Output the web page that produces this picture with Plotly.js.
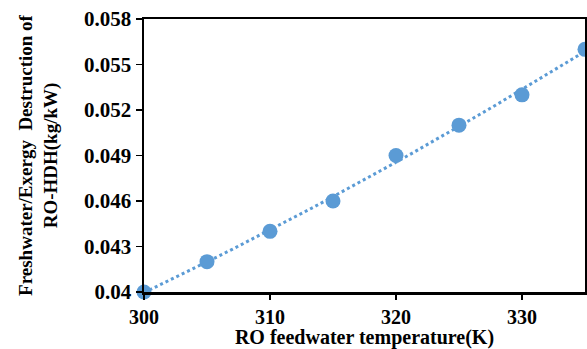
<!DOCTYPE html>
<html><head><meta charset="utf-8">
<script src="https://cdn.plot.ly/plotly-3.0.1.min.js"></script>
<style>html,body{margin:0;padding:0;background:#fff}#c{width:587px;height:349px}</style>
</head><body><div id="c"></div>
<script>
const temperature = [300, 305, 310, 315, 320, 325, 330, 335];
const ratio = [0.040, 0.042, 0.044, 0.046, 0.049, 0.051, 0.053, 0.056];

// quadratic least-squares trendline from the data
function polyfit2(x, y) {
  const n = x.length, x0 = 300;
  let S = [0,0,0,0,0], T = [0,0,0];
  for (let i = 0; i < n; i++) {
    const u = x[i] - x0;
    for (let k = 0; k < 5; k++) S[k] += Math.pow(u, k);
    for (let k = 0; k < 3; k++) T[k] += y[i] * Math.pow(u, k);
  }
  const A = [[S[0],S[1],S[2],T[0]],[S[1],S[2],S[3],T[1]],[S[2],S[3],S[4],T[2]]];
  for (let i = 0; i < 3; i++) {
    for (let j = i + 1; j < 3; j++) {
      const f = A[j][i] / A[i][i];
      for (let k = i; k < 4; k++) A[j][k] -= f * A[i][k];
    }
  }
  const c = [0,0,0];
  for (let i = 2; i >= 0; i--) {
    let s = A[i][3];
    for (let k = i + 1; k < 3; k++) s -= A[i][k] * c[k];
    c[i] = s / A[i][i];
  }
  return t => c[0] + c[1]*(t-x0) + c[2]*(t-x0)*(t-x0);
}
const f = polyfit2(temperature, ratio);
const tx = [], ty = [];
for (let t = 300; t <= 335; t += 1) { tx.push(t); ty.push(f(t)); }

const blue = '#5B9BD5';
const fam = 'Liberation Serif, Times New Roman, serif';
Plotly.newPlot('c', [
  {x: tx, y: ty, mode: 'lines', line: {color: blue, width: 3, dash: 'dot'}, hoverinfo: 'skip', cliponaxis: false},
  {x: temperature, y: ratio, mode: 'markers', marker: {color: blue, size: 15}, cliponaxis: false}
], {
  width: 587, height: 349,
  margin: {l: 144, r: 2, t: 19, b: 57},
  showlegend: false,
  paper_bgcolor: '#fff', plot_bgcolor: '#fff',
  font: {family: fam, color: '#000'},
  xaxis: {
    range: [300, 335], tickvals: [300, 310, 320, 330],
    ticks: 'outside', ticklen: 5, tickwidth: 1.5, tickcolor: '#000',
    showgrid: false, zeroline: false,
    showline: true, linecolor: '#000', linewidth: 2.5, mirror: true,
    tickfont: {family: fam, size: 20, color: '#000', weight: 'bold'},
    title: {text: '<b>RO feedwater temperature(K)</b>', font: {family: fam, size: 20, color: '#000'}, standoff: 6}
  },
  yaxis: {
    range: [0.04, 0.058], tickvals: [0.04, 0.043, 0.046, 0.049, 0.052, 0.055, 0.058],
    ticktext: ['0.04', '0.043', '0.046', '0.049', '0.052', '0.055', '0.058'],
    ticks: 'outside', ticklen: 6, tickwidth: 1.5, tickcolor: '#000',
    showgrid: false, zeroline: false,
    showline: true, linecolor: '#000', linewidth: 2.5, mirror: true,
    tickfont: {family: fam, size: 21, color: '#000', weight: 'bold'},
    title: {text: '<b>Freshwater/Exergy  Destruction of<br>RO-HDH(kg/kW)</b>', font: {family: fam, size: 19, color: '#000'}, standoff: 22}
  }
}, {staticPlot: true});
</script></body></html>
